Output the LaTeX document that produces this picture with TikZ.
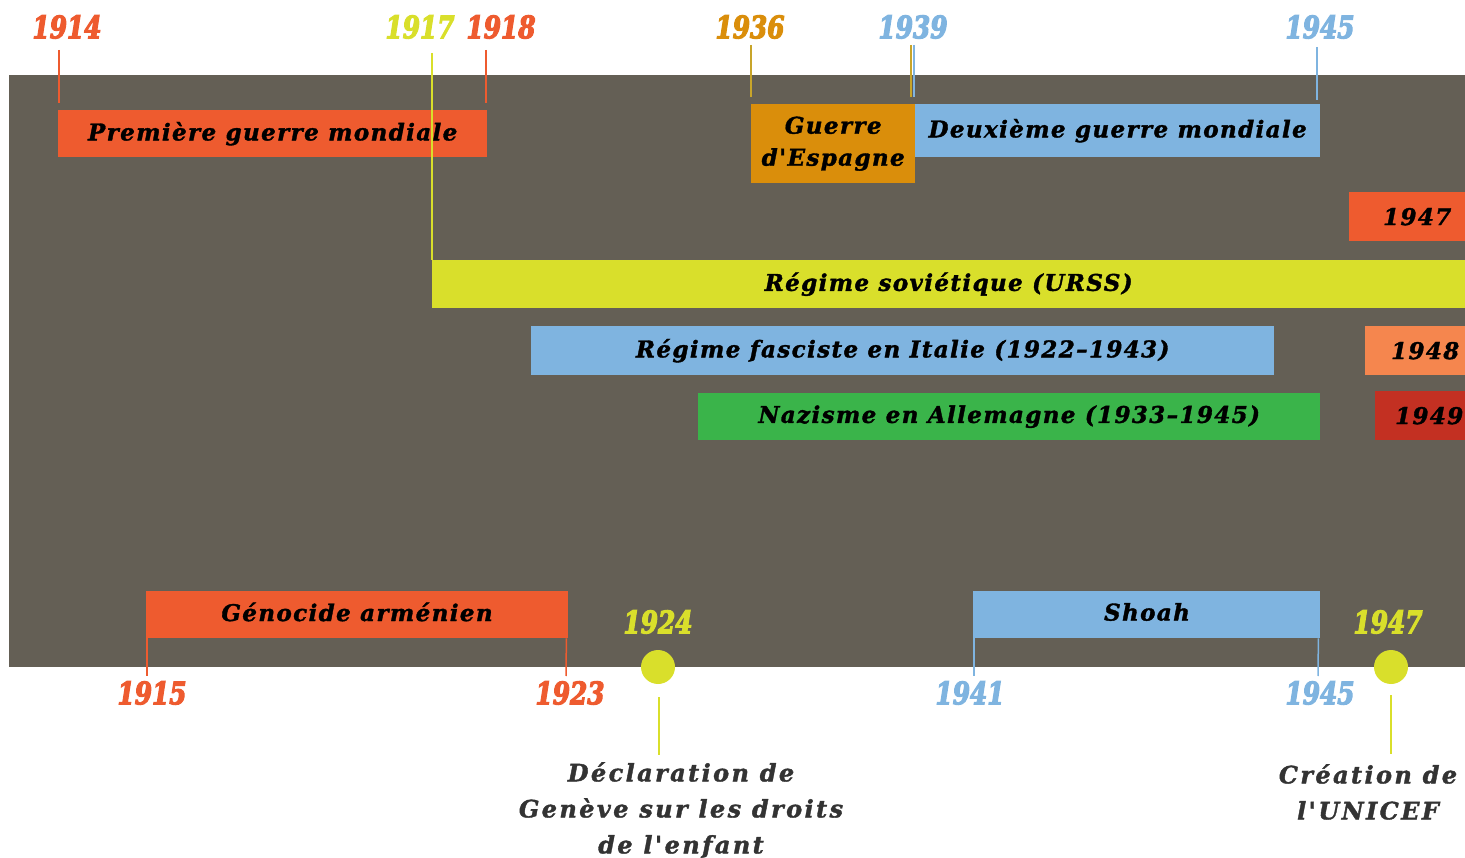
\documentclass[tikz,border=0pt]{standalone}
\usepackage{fontspec}
\setmainfont{DejaVu Serif}
\newfontfamily\boxfam[LetterSpace=6,FakeBold=1.5]{DejaVu Serif}
\newfontfamily\notefam[LetterSpace=10,FakeBold=1.5]{DejaVu Serif}
\newfontfamily\yearfam[FakeStretch=0.8,FakeBold=3.5]{DejaVu Serif}
\definecolor{cGray}{HTML}{645F55}
\definecolor{cOrange}{HTML}{EE5B2F}
\definecolor{cYellow}{HTML}{D9DF2B}
\definecolor{cBlue}{HTML}{7FB4E0}
\definecolor{cGreen}{HTML}{3AB44A}
\definecolor{cGold}{HTML}{DA8E0B}
\definecolor{cGoldTick}{HTML}{C8A52A}
\definecolor{cLightOrange}{HTML}{F5864E}
\definecolor{cRed}{HTML}{C33022}
\definecolor{cDark}{HTML}{333333}
\tikzset{
  boxtext/.style={font=\boxfam\bfseries\itshape\fontsize{23}{32}\selectfont},
  bar/.style={fill=#1, draw=none, inner sep=0pt, anchor=north west, text=black,
    boxtext, align=center},
  year/.style={text=#1, inner sep=0pt, font=\yearfam\bfseries\itshape\fontsize{31}{31}\selectfont},
  tick/.style={draw=#1, line width=1.5pt},
  dot/.style={circle, fill=cYellow, draw=none, minimum size=34pt, inner sep=0pt},
  note/.style={text=cDark, align=center, inner sep=0pt,
    font=\notefam\bfseries\itshape\fontsize{24}{36}\selectfont}
}
\begin{document}
\begin{tikzpicture}[x=1pt,y=-1pt]
\useasboundingbox (0,0) rectangle (1465,858);
\fill[cGray] (9,75) rectangle (1465,667);

% top year labels
\node[year=cOrange] (y1914) at (67,27) {1914};
\node[year=cYellow] (y1917) at (420,27) {1917};
\node[year=cOrange] (y1918) at (501,27) {1918};
\node[year=cGold] (y1936) at (750,27) {1936};
\node[year=cBlue] (y1939) at (913,27) {1939};
\node[year=cBlue] (y1945a) at (1320,27) {1945};

% boxes
\node[bar=cOrange, minimum width=429, minimum height=47] (pgm) at (58,110) {Première guerre mondiale};
\node[bar=cGold, minimum width=164, minimum height=79] (esp) at (751,104) {Guerre\\d'Espagne};
\node[bar=cBlue, minimum width=405, minimum height=53] (dgm) at (915,104) {Deuxième guerre mondiale};
\node[bar=cOrange, minimum width=116, minimum height=49] (b1947) at (1349,192) {\hspace*{20pt}1947};
\node[bar=cYellow, minimum width=1033, minimum height=48] (urss) at (432,260) {Régime soviétique (URSS)};
\node[bar=cBlue, minimum width=743, minimum height=49] (ital) at (531,326) {Régime fasciste en Italie (1922–1943)};
\node[bar=cLightOrange, minimum width=100, minimum height=49] (b1948) at (1365,326) {\hspace*{20pt}1948};
\node[bar=cGreen, minimum width=622, minimum height=47] (nazi) at (698,393) {Nazisme en Allemagne (1933–1945)};
\node[bar=cRed, minimum width=90, minimum height=49] (b1949) at (1375,391) {\hspace*{18pt}1949};
\node[bar=cOrange, minimum width=422, minimum height=47] (arm) at (146,591) {};
\node[bar=cBlue, minimum width=347, minimum height=47] (shoah) at (973,591) {};
\node[inner sep=0pt, boxtext] (armt) at (357,612) {Génocide arménien};
\node[inner sep=0pt, boxtext] (shoaht) at (1147,612) {Shoah};

% tick ends (top)
\coordinate (t1914) at (59,50);
\coordinate (t1917) at (432,53);
\coordinate (t1918) at (486,50);
\coordinate (t1936) at (751,45);
\coordinate (t1939g) at (911,45);
\coordinate (t1939b) at (914,45);
\coordinate (t1945) at (1317,47);
\coordinate (e1914) at (59,103);
\coordinate (e1918) at (486,103);
\coordinate (e1936) at (751,97);
\coordinate (e1939g) at (911,97);
\coordinate (e1939b) at (914,97);
\coordinate (e1945) at (1317,100);
\draw[tick=cOrange] (t1914) -- (e1914);
\draw[tick=cYellow] (t1917) -- (urss.north west);
\draw[tick=cOrange] (t1918) -- (e1918);
\draw[tick=cGoldTick] (t1936) -- (e1936);
\draw[tick=cGoldTick] (t1939g) -- (e1939g);
\draw[tick=cBlue] (t1939b) -- (e1939b);
\draw[tick=cBlue] (t1945) -- (e1945);

% bottom labels and ticks
\node[year=cOrange] (y1915) at (152,693) {1915};
\node[year=cOrange] (y1923) at (570,693) {1923};
\node[year=cBlue] (y1941) at (970,693) {1941};
\node[year=cBlue] (y1945b) at (1320,693) {1945};
\coordinate (b1915) at (147,676);
\coordinate (b1923) at (566,676);
\coordinate (b1941) at (974,676);
\coordinate (b1945) at (1318,676);
\draw[tick=cOrange] ([xshift=1pt]arm.south west) -- (b1915);
\draw[tick=cOrange] ([xshift=-2pt]arm.south east) -- (b1923);
\draw[tick=cBlue] ([xshift=1pt]shoah.south west) -- (b1941);
\draw[tick=cBlue] ([xshift=-2pt]shoah.south east) -- (b1945);

% events
\node[year=cYellow] (y1924) at (658,622) {1924};
\node[dot] (d1924) at (658,667) {};
\coordinate (l1924) at (659,697);
\node[note, anchor=north] (decl) at (681,762) {Déclaration de\\Genève sur les droits\\de l'enfant};
\draw[tick=cYellow] (l1924) -- ([yshift=7pt]decl.north -| l1924);

\node[year=cYellow] (y1947) at (1388,622) {1947};
\node[dot] (d1947) at (1391,667) {};
\coordinate (l1947) at (1391,695);
\node[note, anchor=north] (unicef) at (1368,764) {Création de\\l'UNICEF};
\draw[tick=cYellow] (l1947) -- ([yshift=10pt]unicef.north -| l1947);
\end{tikzpicture}
\end{document}
